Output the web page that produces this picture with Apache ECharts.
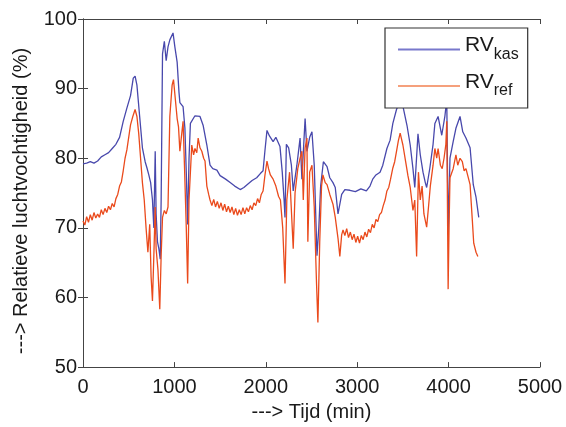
<!DOCTYPE html>
<html>
<head>
<meta charset="utf-8">
<script src="https://cdn.jsdelivr.net/npm/echarts@6/dist/echarts.min.js"></script>
<style>html,body{margin:0;padding:0;background:#fff}#c{width:566px;height:427px}</style>
</head>
<body>
<div id="c"></div>
<script>
// ---- data ----
const xTicks = [0, 1000, 2000, 3000, 4000, 5000];
const yTicks = [50, 60, 70, 80, 90, 100];

const kasTime = [0,40,80,120,160,200,240,280,320,360,400,440,480,520,550,570,590,620,650,680,700,720,740,760,775,790,800,815,830,845,855,870,890,910,930,950,985,1005,1030,1050,1060,1095,1115,1130,1145,1160,1175,1225,1280,1315,1355,1390,1420,1465,1500,1560,1610,1660,1720,1760,1795,1850,1900,1940,1970,1990,2013,2040,2080,2110,2155,2180,2200,2210,2225,2250,2280,2300,2340,2375,2395,2430,2450,2480,2505,2530,2560,2580,2600,2630,2670,2700,2735,2760,2790,2830,2865,2920,2980,3040,3100,3140,3170,3205,3250,3280,3325,3360,3390,3430,3470,3500,3545,3580,3610,3630,3665,3690,3720,3745,3760,3795,3830,3850,3885,3925,3960,3980,3995,4015,4050,4080,4125,4155,4190,4235,4270,4300,4330];
const kasValue = [79.2,79.3,79.5,79.3,79.6,80.2,80.5,80.8,81.4,82.0,83.0,85.3,87.2,89.0,91.5,91.8,90.5,86.0,81.5,79.5,78.6,77.6,76.5,74.0,70.0,81.0,72.0,68.0,67.0,65.5,74.0,95.0,96.8,94.0,96.0,97.0,98.0,96.0,93.8,89.5,88.0,87.4,84.3,78.0,70.5,80.0,85.0,86.1,86.0,84.7,81.9,79.0,78.5,78.3,77.5,77.0,76.5,76.0,75.5,75.8,76.2,76.8,77.2,77.8,78.2,81.0,84.0,83.2,82.4,83.0,81.7,78.0,74.0,71.5,82.0,81.5,79.0,75.3,79.0,82.9,77.0,85.7,81.0,83.0,83.8,79.0,66.0,70.0,76.0,79.5,78.8,77.2,76.5,75.8,72.0,74.8,75.5,75.4,75.2,75.6,75.3,76.0,77.0,77.6,78.0,79.0,81.4,82.6,85.0,87.0,88.3,87.5,84.7,81.9,78.5,75.8,83.5,80.5,78.0,76.5,75.8,78.6,82.0,85.0,86.0,83.3,86.1,88.5,69.0,80.0,82.4,84.3,86.0,83.8,82.9,81.5,76.2,74.4,71.5];

const refTime = [
  0,20,40,60,80,100,120,140,160,180,200,220,240,260,280,300,320,340,360,380,400,420,440,
  460,480,500,520,545,570,590,610,630,650,670,690,710,730,745,760,775,790,800,820,840,855,870,890,910,930,950,975,990,
  1010,1030,1045,1060,1080,1095,1110,1130,1145,1160,1190,1210,1225,1245,1260,1280,1300,1320,1335,1355,1375,
  1390,1410,1430,1450,1470,1490,1510,1530,1550,1570,1590,1610,1630,1650,1670,1690,1710,1730,1750,1770,1790,1810,1830,1850,1870,1890,1910,1930,1950,1970,
  1990,2013,2030,2050,2080,2110,2140,2160,2185,2210,2230,2260,2280,2300,2320,2350,2375,2395,2410,2430,2450,2460,2480,2505,2530,2555,2570,2590,2610,2625,2650,2670,2700,2735,2760,2790,2810,2830,
  2845,2865,2885,2905,2925,2945,2965,2985,3005,3025,3045,3065,3085,3105,3125,3145,3165,3185,3205,3225,3245,3265,3285,3305,3325,3345,3365,3390,
  3410,3430,3450,3470,3500,3530,3555,3580,3610,3630,3650,3670,3690,3710,3730,3760,3780,3800,3830,3850,3870,3885,3910,3930,3950,3970,3980,3995,
  4005,4015,4050,4080,4100,4125,4150,4170,4190,4235,4260,4275,4300,4320];
const refValue = [
  71.0,70.4,71.6,70.8,71.9,71.1,72.2,71.4,72.0,71.5,72.6,71.9,72.8,72.2,73.1,72.6,73.5,73.0,74.2,74.8,76.0,76.6,78.2,
  80.0,81.2,83.0,84.8,86.0,87.0,86.0,83.5,80.0,76.5,74.0,70.0,66.5,70.5,63.0,59.5,66.0,73.0,67.0,64.0,58.3,66.0,71.5,72.5,72.0,73.0,86.0,90.5,91.3,
  88.5,85.7,84.5,81.0,83.5,85.3,79.0,70.0,62.0,74.0,81.9,80.5,81.4,80.8,82.9,81.5,81.0,80.0,79.6,76.0,74.8,
  74.0,73.2,74.1,73.0,73.8,72.8,73.6,72.5,73.4,72.3,73.1,72.2,73.0,71.9,72.8,71.8,72.6,71.9,72.9,72.0,72.9,72.3,73.2,72.6,73.6,73.2,74.2,73.6,74.8,75.3,
  77.5,79.6,78.5,77.6,77.0,76.0,74.5,74.0,70.0,62.0,74.0,78.0,72.5,67.0,75.0,78.5,80.0,81.0,74.0,81.5,82.9,68.0,78.0,79.0,73.0,62.0,56.4,68.0,76.0,77.6,76.5,76.2,74.8,73.4,71.5,68.5,65.9,69.0,
  69.7,68.9,69.9,68.6,69.4,68.3,69.1,67.9,68.8,67.8,68.9,68.3,69.4,68.7,69.8,69.3,70.5,70.0,71.2,70.9,71.9,72.2,73.2,74.0,75.3,75.8,77.0,78.6,
  79.5,81.0,82.5,83.6,81.9,79.5,77.5,75.8,72.5,74.0,65.9,78.0,74.0,76.0,72.0,70.1,73.0,76.0,79.0,81.4,80.0,81.4,79.0,78.5,80.0,82.0,85.3,61.2,
  70.0,77.2,78.5,80.5,79.0,80.0,79.5,78.2,78.5,76.2,71.0,67.8,66.5,65.9];

const seriesNames = ['RVkas', 'RVref'];
const xTitle = '---> Tijd (min)';
const yTitle = '---> Relatieve luchtvochtigheid (%)';

// ---- chart ----
const zip = (t, v) => t.map((x, i) => [x, v[i]]);
const FONT = 'Liberation Sans';
const chart = echarts.init(document.getElementById('c'), null, {renderer: 'canvas'});
const axLine = {show: true, lineStyle: {color: '#444', width: 1}};
const axTick = {show: true, inside: true, length: 5, lineStyle: {color: '#444'}};
chart.setOption({
  animation: false,
  backgroundColor: '#fff',
  grid: {left: 83, right: 26, top: 19, bottom: 55},
  xAxis: [{
    type: 'value', min: xTicks[0], max: xTicks[xTicks.length - 1], interval: 1000,
    position: 'bottom', axisLine: axLine, axisTick: axTick, splitLine: {show: false},
    axisLabel: {fontFamily: FONT, fontSize: 20, color: '#1a1a1a', margin: 10, formatter: v => String(v)},
    name: xTitle, nameLocation: 'middle', nameGap: 28,
    nameTextStyle: {fontFamily: FONT, fontSize: 20, color: '#1a1a1a'}
  }, {
    type: 'value', min: xTicks[0], max: xTicks[xTicks.length - 1], interval: 1000,
    position: 'top', axisLine: axLine, axisTick: axTick, splitLine: {show: false},
    axisLabel: {show: false}
  }],
  yAxis: [{
    type: 'value', min: yTicks[0], max: yTicks[yTicks.length - 1], interval: 10,
    position: 'left', axisLine: axLine, axisTick: axTick, splitLine: {show: false},
    axisLabel: {fontFamily: FONT, fontSize: 20, color: '#1a1a1a', margin: 6},
    name: yTitle, nameLocation: 'middle', nameGap: 52, nameRotate: 90,
    nameTextStyle: {fontFamily: FONT, fontSize: 20, color: '#1a1a1a', padding: [0, 16, 0, 0]}
  }, {
    type: 'value', min: yTicks[0], max: yTicks[yTicks.length - 1], interval: 10,
    position: 'right', axisLine: axLine, axisTick: axTick, splitLine: {show: false},
    axisLabel: {show: false}
  }],
  legend: {
    orient: 'vertical', left: 385, top: 28,
    padding: [7, 9, 9, 13], itemGap: 9, itemWidth: 62, itemHeight: 2,
    icon: 'rect',
    backgroundColor: '#fff', borderColor: '#333', borderWidth: 1.2,
    data: [
      {name: seriesNames[0], itemStyle: {color: '#7878cc'}},
      {name: seriesNames[1], itemStyle: {color: '#f5a07c'}}
    ],
    formatter: n => '{m|' + n.slice(0, 2) + '}{s|' + n.slice(2) + '}',
    textStyle: {
      rich: {
        m: {fontFamily: FONT, fontSize: 21, color: '#1a1a1a', padding: [0, 0, 8, 0]},
        s: {fontFamily: FONT, fontSize: 16, color: '#1a1a1a', padding: [10, 0, 0, 0]}
      }
    }
  },
  series: [{
    name: seriesNames[0], type: 'line', symbol: 'none', data: zip(kasTime, kasValue),
    lineStyle: {color: '#4848ac', width: 1.3}, itemStyle: {color: '#4848ac'}, z: 2
  }, {
    name: seriesNames[1], type: 'line', symbol: 'none', data: zip(refTime, refValue),
    lineStyle: {color: '#ea4a1c', width: 1.3}, itemStyle: {color: '#ea4a1c'}, z: 3
  }]
});
</script>
</body>
</html>
